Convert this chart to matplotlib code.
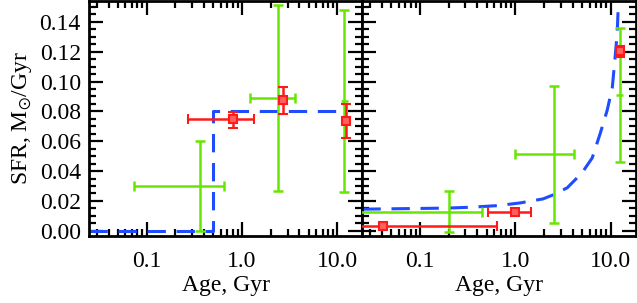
import numpy as np
import matplotlib.pyplot as plt
from matplotlib.ticker import LogLocator, NullFormatter

plt.rcParams['font.family'] = ['Liberation Serif', 'DejaVu Serif']
plt.rcParams['mathtext.fontset'] = 'stix'

# left panel: model step and measurements
step_age = [0.025, 0.5, 0.5, 11.5]
step_sfr = [0.0, 0.0, 0.08, 0.08]

gL_x = [0.36, 2.38]
gL_xlo = [0.073, 1.21]
gL_xhi = [0.64, 3.59]
gL_y = [0.030, 0.089]
gL_ylo = [0.0, 0.027]
gL_yhi = [0.060, 0.151]
gL_old = [11.8, 10.8, 12.9, 0.087, 0.026, 0.148]   # x, xlo, xhi, y, ylo, yhi

rL_x = [0.80, 2.69, 12.4]
rL_xlo = [0.27, 2.69, 12.4]
rL_xhi = [1.34, 2.69, 12.4]
rL_y = [0.075, 0.0873, 0.0733]
rL_ylo = [0.0687, 0.078, 0.062]
rL_yhi = [0.0793, 0.096, 0.0847]

# right panel: model curve and measurements
curve_age = [0.025, 0.19, 0.34, 0.66, 1.13, 1.96, 2.5, 3.5, 5.0, 6.4, 7.8,
             9.2, 10.4, 11.1, 11.7, 12.0, 12.3]
curve_sfr = [0.0145, 0.0152, 0.0158, 0.0169, 0.0187, 0.0214, 0.0241, 0.0288,
             0.0388, 0.0488, 0.0656, 0.0809, 0.096, 0.1157, 0.1324, 0.150, 0.162]

gR_x = [0.20, 2.56]
gR_xlo = [0.01, 0.99]
gR_xhi = [0.45, 4.15]
gR_y = [0.0127, 0.0513]
gR_ylo = [-0.001, 0.0053]
gR_yhi = [0.0267, 0.0973]
gR_old = [12.4, 11.3, 13.6, 0.0913, 0.046, 0.136]

rR_x = [0.041, 1.0, 12.4]
rR_xlo = [0.01, 0.52, 12.4]
rR_xhi = [0.64, 1.47, 12.4]
rR_y = [0.0035, 0.0127, 0.1207]
rR_ylo = [0.0035, 0.0127, 0.1167]
rR_yhi = [0.0035, 0.0127, 0.124]

green = '#66e600'
red = '#ff1a1a'
blue = '#1f4cff'


def errs(c, lo, hi):
    c = np.array(c)
    return [c - np.array(lo), np.array(hi) - c]


def draw_points(ax, gx, gxlo, gxhi, gy, gylo, gyhi, gold, rx, rxlo, rxhi, ry, rylo, ryhi):
    ax.errorbar(gx, gy, xerr=errs(gx, gxlo, gxhi), yerr=errs(gy, gylo, gyhi),
                fmt='none', ecolor=green, elinewidth=1.8, capsize=3.5, capthick=1.8, zorder=3)
    ax.errorbar([gold[0]], [gold[3]], yerr=errs([gold[3]], [gold[4]], [gold[5]]),
                fmt='none', ecolor=green, elinewidth=1.8, capsize=3.5, capthick=1.8, zorder=3)
    ax.errorbar([gold[0]], [gold[3]], xerr=errs([gold[0]], [gold[1]], [gold[2]]),
                fmt='none', ecolor=green, elinewidth=1.8, capsize=0, zorder=3)
    ax.errorbar(rx, ry, xerr=errs(rx, rxlo, rxhi), yerr=errs(ry, rylo, ryhi),
                fmt='s', color=red, mfc='#ff6060', mec=red, ms=6, mew=1.5,
                ecolor=red, elinewidth=1.8, capsize=3.5, capthick=1.8, zorder=4)


fig, (ax1, ax2) = plt.subplots(1, 2, figsize=(6.37, 3.03), dpi=100, sharey=True)
fig.subplots_adjust(left=0.14, right=0.998, bottom=0.221, top=0.997, wspace=0)

ax1.plot(step_age, step_sfr, color=blue, lw=2.2, dashes=(6, 3.5), zorder=2)
draw_points(ax1, gL_x, gL_xlo, gL_xhi, gL_y, gL_ylo, gL_yhi, gL_old,
            rL_x, rL_xlo, rL_xhi, rL_y, rL_ylo, rL_yhi)

ax2.plot(curve_age, curve_sfr, color=blue, lw=2.2, dashes=(6, 3.5), zorder=2)
draw_points(ax2, gR_x, gR_xlo, gR_xhi, gR_y, gR_ylo, gR_yhi, gR_old,
            rR_x, rR_xlo, rR_xhi, rR_y, rR_ylo, rR_yhi)

for ax in (ax1, ax2):
    ax.set_xscale('log')
    ax.set_xlim(0.025, 18.3)
    ax.set_ylim(-0.0035, 0.154)
    ax.set_xticks([0.1, 1.0, 10.0])
    ax.set_xticklabels(['0.1', '1.0', '10.0'])
    ax.xaxis.set_minor_locator(LogLocator(base=10, subs=np.arange(2, 10), numticks=20))
    ax.xaxis.set_minor_formatter(NullFormatter())
    ax.set_yticks(np.arange(0, 0.141, 0.02))
    ax.set_yticks(np.arange(0, 0.151, 0.005), minor=True)
    ax.tick_params(which='both', direction='in', top=True, right=True, labelsize=17,
                   width=1.6, colors='black')
    ax.tick_params(which='major', length=10)
    ax.tick_params(which='minor', length=5)
    ax.tick_params(axis='x', which='major', pad=11)
    ax.tick_params(axis='y', which='major', pad=6)
    for s in ax.spines.values():
        s.set_linewidth(2)
    ax.set_xlabel('Age, Gyr', fontsize=17, labelpad=2)

ax1.set_yticklabels(['%.2f' % v for v in np.arange(0, 0.141, 0.02)])
ax1.set_ylabel(r'SFR, M$_{\odot}$/Gyr', fontsize=17, labelpad=4)
ax2.tick_params(labelleft=False)

plt.savefig('out.png', dpi=100)
